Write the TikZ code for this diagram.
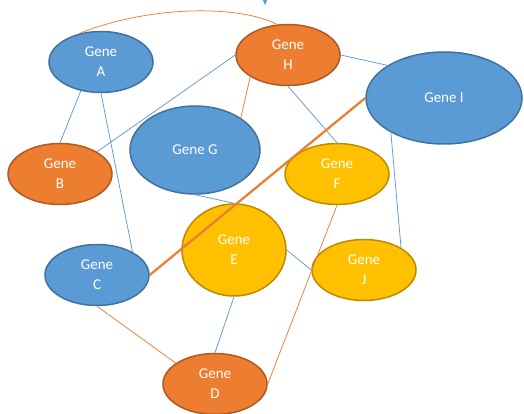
\documentclass[tikz,border=0pt]{standalone}
\usepackage{fontspec}
\setmainfont{Carlito}
\usetikzlibrary{shapes.geometric,arrows}

\definecolor{geneblue}{HTML}{5B9BD5}
\definecolor{geneblueline}{HTML}{41719C}
\definecolor{geneorange}{HTML}{ED7D31}
\definecolor{geneorangeline}{HTML}{AE5A21}
\definecolor{geneyellow}{HTML}{FFC000}
\definecolor{geneyellowline}{HTML}{BC8C00}

\tikzset{
  gene/.style={ellipse, inner sep=0pt, line width=1.5pt, text=white, align=center,
    font=\fontsize{15}{20}\selectfont, minimum width=104pt, minimum height=61pt},
  blue gene/.style={gene, fill=geneblue, draw=geneblueline},
  orange gene/.style={gene, fill=geneorange, draw=geneorangeline},
  yellow gene/.style={gene, fill=geneyellow, draw=geneyellowline},
  blue link/.style={draw=geneblue, line width=0.75pt},
  orange link/.style={draw=geneorange, line width=0.75pt}
}

\begin{document}
\begin{tikzpicture}[x=1pt,y=-1pt]
\useasboundingbox (0,0) rectangle (524,414);

\node[blue gene] (A) at (101,62) {Gene\\A};
\node[orange gene] (H) at (288,55) {Gene\\H};
\node[blue gene, minimum width=156pt, minimum height=92pt] (I) at (444,98) {Gene I};
\node[blue gene, minimum width=130pt, minimum height=88pt] (G) at (195,150) {Gene G};
\node[orange gene] (B) at (60,174) {Gene\\B};
\node[yellow gene] (F) at (337,174) {Gene\\F};
\node[blue gene] (C) at (97,275) {Gene\\C};
\node[yellow gene, minimum height=92pt] (E) at (234,250) {Gene\\E};
\node[yellow gene] (J) at (364,270) {Gene\\J};
\node[orange gene] (D) at (215,384) {Gene\\D};

\coordinate (top) at (265,-12);
\coordinate (toptip) at (265,5);
\draw [blue link, -triangle 45] (top) -- (toptip);

\draw [orange link] (A.128) .. controls (150,5) and (240,5) .. (H.110);
\draw [blue link] (A.-125) -- (B.90);
\draw [blue link] (A.-90) -- (C.33);
\draw [blue link] (H.180) -- (B.31);
\draw [orange link] (H.-150) -- (G.35);
\draw [blue link] (H.-90) -- (F.90);
\draw [blue link] (H.0) -- (I.150);
\draw [orange link, line width=2.25pt] (I.180) -- (C.0);
\draw [blue link] (I.-147) -- (J.31);
\draw [blue link] (G.-90) -- (E.90);
\draw [blue link] (E.0) -- (J.180);
\draw [blue link] (E.-90) -- (D.90);
\draw [orange link] (C.-90) -- (D.152);
\draw [orange link] (F.-90) -- (D.0);
\end{tikzpicture}
\end{document}
